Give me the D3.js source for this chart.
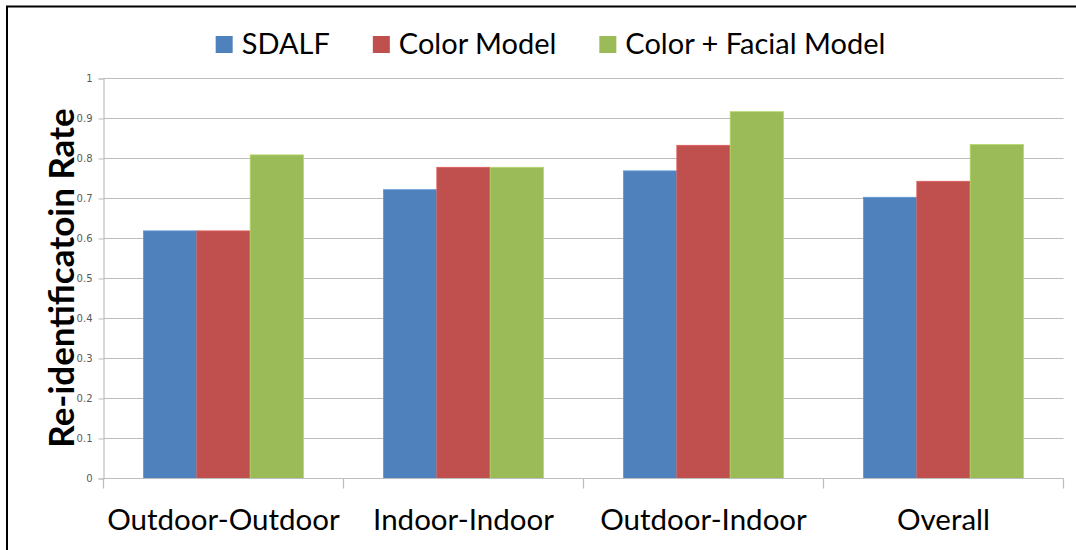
<!DOCTYPE html>
<html>
<head>
<meta charset="utf-8">
<script src="https://cdn.jsdelivr.net/npm/d3@7"></script>
<style>
  body { margin: 0; background: #fff; }
  svg { display: block; }
</style>
</head>
<body>
<script>
var categories = ["Outdoor-Outdoor", "Indoor-Indoor", "Outdoor-Indoor", "Overall"];
var seriesNames = ["SDALF", "Color Model", "Color + Facial Model"];
var sdalf = [0.619, 0.722, 0.769, 0.703];
var colorModel = [0.619, 0.778, 0.833, 0.743];
var facialModel = [0.809, 0.778, 0.917, 0.835];
var yTicks = [0, 0.1, 0.2, 0.3, 0.4, 0.5, 0.6, 0.7, 0.8, 0.9, 1];
var colors = ["#4F81BD", "#C0504D", "#9BBB59"];

var seriesValues = [sdalf, colorModel, facialModel];

var width = 1076, height = 550;
var plotLeft = 103.5, plotRight = 1063.5, plotTop = 78.5, plotBottom = 478.5;

var svg = d3.select("body").append("svg")
    .attr("width", width)
    .attr("height", height);

// frame (only left and top visible)
svg.append("path")
    .attr("d", "M7,550 L7,6.5 L1076,6.5")
    .attr("fill", "none")
    .attr("stroke", "#000")
    .attr("stroke-width", 2);

var x0 = d3.scaleBand()
    .domain(categories)
    .range([plotLeft, plotRight])
    .padding(0);

var x1 = d3.scaleBand()
    .domain(seriesNames)
    .range([x0.bandwidth() / 6, x0.bandwidth() * 5 / 6])
    .padding(0);

var y = d3.scaleLinear()
    .domain([0, 1])
    .range([plotBottom, plotTop]);

// gridlines
svg.append("g")
    .selectAll("line")
    .data(yTicks.slice(1))
    .enter().append("line")
    .attr("x1", plotLeft)
    .attr("x2", plotRight)
    .attr("y1", function(d) { return y(d); })
    .attr("y2", function(d) { return y(d); })
    .attr("stroke", "#bdbdbd")
    .attr("stroke-width", 1.2);

// y axis
var yAxis = d3.axisLeft(y)
    .tickValues(yTicks)
    .tickSize(5)
    .tickPadding(6)
    .tickFormat(function(d) { return String(+d.toFixed(1)); });

var gy = svg.append("g")
    .attr("transform", "translate(" + plotLeft + ",0)")
    .call(yAxis);
gy.select(".domain").attr("stroke", "#bdbdbd").attr("stroke-width", 1.2);
gy.selectAll(".tick line").attr("stroke", "#bdbdbd");
gy.selectAll("text")
    .attr("fill", "#595959")
    .style("font-family", "DejaVu Sans, Verdana, sans-serif")
    .style("font-size", "10px");

// bars
var groups = svg.append("g")
    .selectAll("g")
    .data(categories)
    .enter().append("g")
    .attr("transform", function(d) { return "translate(" + x0(d) + ",0)"; });

groups.selectAll("rect")
    .data(function(d, i) {
        return seriesNames.map(function(s, j) {
            return { series: s, value: seriesValues[j][i], color: colors[j] };
        });
    })
    .enter().append("rect")
    .attr("x", function(d) { return x1(d.series); })
    .attr("width", x1.bandwidth())
    .attr("y", function(d) { return y(d.value); })
    .attr("height", function(d) { return y(0) - y(d.value); })
    .attr("fill", function(d) { return d.color; })
    .attr("stroke", function(d) { return d3.color(d.color).brighter(0.4); })
    .attr("stroke-width", 0.8);

// x axis
var gx = svg.append("g")
    .attr("transform", "translate(0," + plotBottom + ")");
gx.append("line")
    .attr("x1", plotLeft).attr("x2", plotRight)
    .attr("stroke", "#bdbdbd").attr("stroke-width", 1.2);
gx.selectAll(".sep")
    .data(categories.concat(["end"]))
    .enter().append("line")
    .attr("class", "sep")
    .attr("x1", function(d, i) { return plotLeft + i * x0.step(); })
    .attr("x2", function(d, i) { return plotLeft + i * x0.step(); })
    .attr("y1", 0)
    .attr("y2", 10)
    .attr("stroke", "#bdbdbd")
    .attr("stroke-width", 1.2);

svg.append("g")
    .selectAll("text")
    .data(categories)
    .enter().append("text")
    .attr("x", function(d) { return x0(d) + x0.bandwidth() / 2; })
    .attr("y", 530)
    .attr("text-anchor", "middle")
    .style("font-family", "Lato, sans-serif")
    .style("font-size", "29.5px")
    .attr("fill", "#000")
    .text(function(d) { return d; });

// y title
svg.append("text")
    .attr("transform", "translate(74,278) rotate(-90)")
    .attr("text-anchor", "middle")
    .style("font-family", "Lato, sans-serif")
    .style("font-weight", "bold")
    .style("font-size", "35px")
    .text("Re-identificatoin Rate");

// legend
var legend = svg.append("g");
var items = legend.selectAll("g")
    .data(seriesNames)
    .enter().append("g");

items.append("rect")
    .attr("width", 17)
    .attr("height", 17)
    .attr("y", 36)
    .attr("fill", function(d, i) { return colors[i]; });

items.append("text")
    .attr("x", 26)
    .attr("y", 54)
    .style("font-family", "Lato, sans-serif")
    .style("font-size", "29px")
    .text(function(d) { return d; });

var xPos = 0;
var positions = [];
items.each(function() {
    positions.push(xPos);
    xPos += 26 + this.querySelector("text").getComputedTextLength() + 43;
});
var total = xPos - 43;
var start = 550.5 - total / 2;
items.attr("transform", function(d, i) { return "translate(" + (start + positions[i]) + ",0)"; });
</script>
</body>
</html>
